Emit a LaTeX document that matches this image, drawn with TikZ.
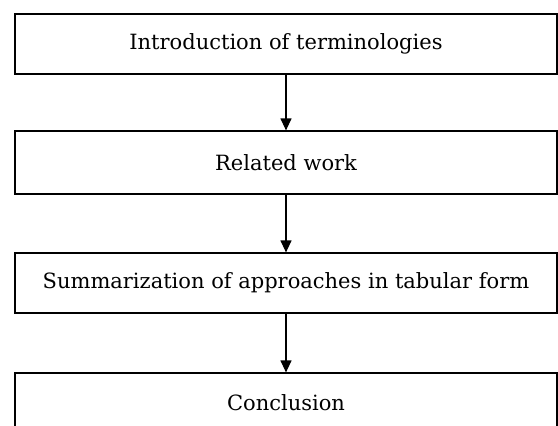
\documentclass[tikz,border=0pt]{standalone}
\usepackage{fontspec}
\setmainfont{DejaVu Serif}
\usetikzlibrary{arrows.meta}
\tikzset{
    stage/.style = {draw, line width=1.2pt, minimum width=542pt, minimum height=60pt, inner sep=0pt, font=\fontsize{21}{25}\selectfont},
    flow/.style = {line width=1.2pt, -{Triangle[length=12pt, width=11pt]}}
}
\begin{document}
\begin{tikzpicture}[x=1pt, y=1pt]
        \useasboundingbox (0,0) rectangle (558,-426);
        % place the stages
        \node[stage] (intro) at (286, -44) {Introduction of terminologies};
        \node[stage, minimum height=63pt] (related) at (286, -162.5) {Related work};
        \node[stage] (summary) at (286, -283) {Summarization of approaches in tabular form};
        \node[stage] (conclusion) at (286, -403) {Conclusion};

        % connect the stages top to bottom
        \draw[flow] (intro) -- (related);
        \draw[flow] (related) -- (summary);
        \draw[flow] (summary) -- (conclusion);
    \end{tikzpicture}
\end{document}
